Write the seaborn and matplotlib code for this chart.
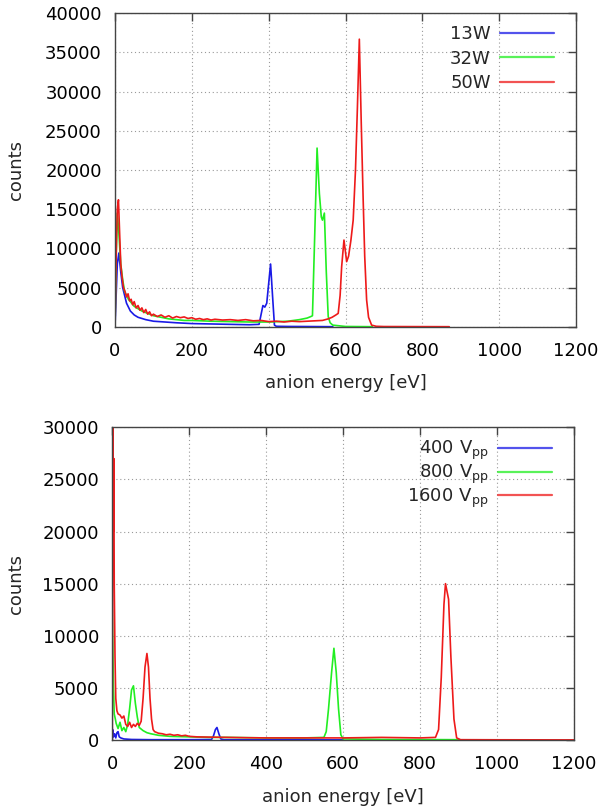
import numpy as np
import pandas as pd
import matplotlib
matplotlib.use("Agg")
import matplotlib.pyplot as plt
import seaborn as sns

# ---------------- data ----------------
# Top panel: power series
w13_x = [0, 3, 6, 10, 15, 20, 30, 40, 50, 60, 80, 100, 130, 160, 200, 250, 300, 350, 375,
         380, 385, 390, 395, 400, 405, 410, 415, 420, 450, 500, 567]
w13_y = [0, 4000, 8000, 9400, 7000, 5000, 3000, 2000, 1500, 1200, 900, 700, 600, 500, 400, 350, 300, 250, 300,
         1500, 2700, 2500, 3000, 5500, 8000, 4000, 200, 50, 30, 20, 0]

w32_x = [0, 3, 6, 10, 15, 20, 25, 30, 35, 40, 50, 60, 70, 80, 90, 100, 120, 140, 160, 180, 200,
         250, 300, 350, 400, 450, 480, 500, 510, 514, 520, 526, 532, 537, 540, 545, 550, 555, 560,
         567, 600, 670]
w32_y = [0, 9000, 14500, 12000, 8000, 6000, 4500, 4000, 3500, 3200, 2600, 2300, 2000, 1800, 1600, 1400,
         1200, 1000, 900, 800, 800, 700, 650, 600, 600, 700, 900, 1100, 1300, 1400, 11900, 22800, 17000,
         14000, 13600, 14500, 7000, 1300, 500, 200, 30, 0]

w50_x = [0, 3, 6, 9, 12, 15, 18, 22, 26, 30, 34, 38, 42, 46, 50, 55, 60, 65, 70, 75, 80, 85, 90, 95,
         100, 110, 120, 130, 140, 150, 160, 170, 180, 190, 200, 210, 220, 230, 240, 250, 260, 280,
         300, 320, 340, 360, 380, 400, 420, 440, 460, 480, 500, 520, 540, 555, 565, 575, 581, 586,
         590, 596, 603, 608, 614, 620, 626, 631, 636, 641, 646, 650, 655, 660, 668, 680, 700, 870]
w50_y = [0, 9000, 15000, 16200, 12000, 8000, 6500, 5000, 4500, 3800, 4200, 3300, 3500, 2800, 3200,
         2400, 2700, 2100, 2400, 1800, 2200, 1600, 1900, 1400, 1600, 1300, 1500, 1200, 1400, 1100, 1300,
         1150, 1250, 1050, 1150, 950, 1050, 900, 1000, 850, 950, 850, 900, 800, 900, 750, 800, 650, 700,
         600, 700, 650, 700, 750, 800, 1000, 1200, 1500, 1700, 4000, 7660, 11060, 8300, 9000, 11000,
         13600, 20000, 28000, 36700, 26000, 16200, 9000, 3400, 1200, 200, 50, 20, 0]

# Bottom panel: voltage series
v400_x = [0, 1, 3, 6, 9, 12, 15, 18, 22, 30, 50, 100, 200, 258, 263, 268, 272, 277, 282, 290, 400, 600]
v400_y = [0, 1000, 300, 600, 200, 700, 800, 300, 200, 100, 50, 30, 30, 50, 400, 1000, 1200, 600, 100,
          30, 20, 10]

v800_x = [0, 1, 3, 5, 8, 10, 15, 20, 25, 30, 35, 40, 45, 50, 55, 60, 65, 70, 80, 90, 100, 120, 150,
          200, 250, 300, 400, 500, 550, 556, 562, 570, 576, 582, 588, 594, 600, 700, 800, 900, 910]
v800_y = [12500, 10000, 5000, 2500, 2000, 1600, 1100, 1700, 900, 1200, 800, 1500, 3000, 4800, 5200,
          3500, 2200, 1200, 900, 700, 600, 450, 350, 300, 250, 250, 200, 200, 250, 800, 3000, 6500,
          8800, 6500, 3000, 500, 100, 50, 40, 30, 0]

v1600_x = [0, 1, 2, 3, 4, 5, 7, 9, 12, 15, 20, 25, 30, 35, 40, 45, 50, 55, 60, 65, 70, 75, 80, 85, 90,
           94, 98, 102, 106, 110, 120, 130, 140, 150, 160, 170, 180, 190, 200, 220, 250, 300, 350, 400,
           500, 600, 700, 800, 840, 848, 855, 862, 866, 874, 880, 888, 895, 905, 1000, 1200]
v1600_y = [0, 30000, 28400, 20000, 27000, 15000, 8000, 4000, 2800, 2500, 2400, 2100, 2300, 1500, 1300,
           1700, 1200, 1500, 1300, 1600, 1400, 1800, 4000, 7000, 8300, 7000, 4000, 2000, 1000, 800, 650,
           600, 500, 550, 450, 500, 400, 450, 350, 300, 280, 250, 220, 200, 200, 200, 250, 200, 250, 1000,
           6000, 13000, 15000, 13500, 8000, 2000, 200, 30, 20, 10]

top_labels = ["13W", "32W", "50W"]
bot_labels = ["400 V$_{\\mathrm{pp}}$", "800 V$_{\\mathrm{pp}}$", "1600 V$_{\\mathrm{pp}}$"]
xticks = [0, 200, 400, 600, 800, 1000, 1200]
top_yticks = [0, 5000, 10000, 15000, 20000, 25000, 30000, 35000, 40000]
bot_yticks = [0, 5000, 10000, 15000, 20000, 25000, 30000]

colors = ["#1a1ae6", "#22ee22", "#ee1a1a"]

# ---------------- style ----------------
sns.set_theme(style="white")
plt.rcParams["font.family"] = ["DejaVu Sans"]
plt.rcParams["mathtext.fontset"] = "dejavusans"
FS = 13


def make_df(xs, ys, labels):
    frames = []
    for x, y, lab in zip(xs, ys, labels):
        frames.append(pd.DataFrame({"energy": x, "counts": y, "series": lab}))
    return pd.concat(frames, ignore_index=True)


top_df = make_df([w13_x, w32_x, w50_x], [w13_y, w32_y, w50_y], top_labels)
bot_df = make_df([v400_x, v800_x, v1600_x], [v400_y, v800_y, v1600_y], bot_labels)

fig = plt.figure(figsize=(6.03, 8.10), dpi=100)
ax1 = fig.add_axes([115 / 603, 1 - 326.7 / 810, 461 / 603, 313.4 / 810])
ax2 = fig.add_axes([112.3 / 603, 1 - 740 / 810, 461.7 / 603, 312.7 / 810])


def style_axes(ax, df, labels, yticks, ymax, label_x, leg_anchor, spacing):
    sns.lineplot(data=df, x="energy", y="counts", hue="series", hue_order=labels,
                 palette=dict(zip(labels, colors)), estimator=None, sort=False,
                 linewidth=1.2, ax=ax)
    ax.set_xlim(0, 1200)
    ax.set_ylim(0, ymax)
    ax.set_xticks(xticks)
    ax.set_yticks(yticks)
    ax.grid(True, linestyle=(0, (1, 2.5)), color="#999999", linewidth=0.8)
    ax.set_axisbelow(True)
    for s in ax.spines.values():
        s.set_color("#444444")
        s.set_linewidth(1.0)
    ax.tick_params(direction="in", length=6, width=1.0, color="#444444",
                   top=True, right=True, labelsize=FS, labelcolor="black")
    ax.tick_params(axis="x", pad=11)
    ax.tick_params(axis="y", pad=9.5)
    ax.set_xlabel("anion energy [eV]", fontsize=FS)
    ax.set_ylabel("counts", fontsize=FS)
    ax.xaxis.set_label_coords(0.5, -0.152)
    ax.yaxis.set_label_coords(label_x, 0.5)
    leg = ax.legend(loc="upper right", frameon=False, fontsize=FS, markerfirst=False,
                    handlelength=3.0, labelspacing=spacing, borderaxespad=0.0, borderpad=0.0,
                    handletextpad=0.5, bbox_to_anchor=leg_anchor)
    for t in leg.get_texts():
        t.set_ha("right")
    for line in leg.get_lines():
        line.set_linewidth(1.6)
        line.set_alpha(0.75)
    return leg


style_axes(ax1, top_df, top_labels, top_yticks, 40000, -0.195, (0.952, 0.962), 0.35)
style_axes(ax2, bot_df, bot_labels, bot_yticks, 30000, -0.19, (0.952, 0.962), 0.02)

fig.savefig("out.png", dpi=100)
